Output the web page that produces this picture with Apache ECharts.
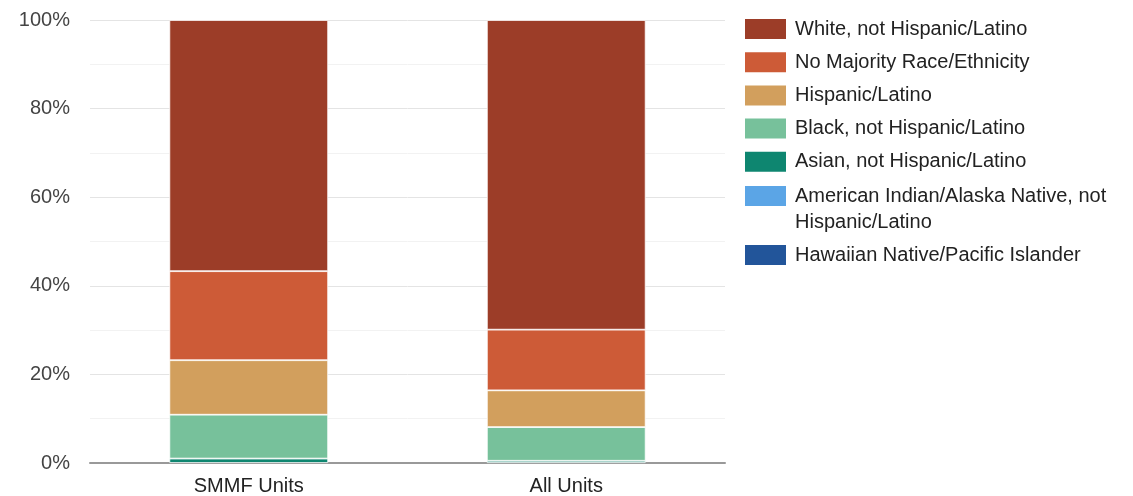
<!DOCTYPE html>
<html>
<head>
<meta charset="utf-8">
<script src="https://cdn.jsdelivr.net/npm/echarts@6/dist/echarts.min.js"></script>
<style>html,body{margin:0;padding:0;background:#fff}#c{width:1133px;height:496px}</style>
</head>
<body>
<div id="c"></div>
<script>
const categories = ['SMMF Units', 'All Units'];
const seriesNames = [
  'Hawaiian Native/Pacific Islander',
  'American Indian/Alaska Native, not Hispanic/Latino',
  'Asian, not Hispanic/Latino',
  'Black, not Hispanic/Latino',
  'Hispanic/Latino',
  'No Majority Race/Ethnicity',
  'White, not Hispanic/Latino'
];
const hawaiian = [0, 0];
const amIndian = [0, 0];
const asian = [1.0, 0.5];
const black = [9.9, 7.6];
const hispanic = [12.3, 8.3];
const noMajority = [20.1, 13.7];
const white = [56.7, 69.9];
const colors = ['#22559a', '#5ba5e6', '#0e8670', '#77c19b', '#d29f5d', '#cd5b37', '#9c3d28'];
const yTicks = [0, 20, 40, 60, 80, 100];

const values = [hawaiian, amIndian, asian, black, hispanic, noMajority, white];
const FONT = 'Liberation Sans, Arial, sans-serif';

const legendBase = {
  orient: 'vertical',
  left: 745,
  padding: 0,
  itemWidth: 41,
  itemHeight: 20,
  itemGap: 7.2,
  icon: 'rect',
  itemStyle: { borderWidth: 0 },
  textStyle: { fontFamily: FONT, fontSize: 20, color: '#222', lineHeight: 26, padding: [0, 0, 0, 4] }
};
const rev = seriesNames.slice().reverse();

const chart = echarts.init(document.getElementById('c'));
chart.setOption({
  animation: false,
  color: colors,
  grid: { left: 90, right: 408, top: 20, bottom: 32, containLabel: false },
  legend: [
    Object.assign({}, legendBase, { top: 16, data: rev.slice(0, 5) }),
    Object.assign({}, legendBase, {
      top: 157,
      data: [rev[5]],
      formatter: function () { return '\nAmerican Indian/Alaska Native, not\nHispanic/Latino'; }
    }),
    Object.assign({}, legendBase, { top: 242, data: [rev[6]] })
  ],
  xAxis: {
    type: 'category',
    data: categories,
    axisTick: { show: false },
    axisLine: { show: true, lineStyle: { color: '#999', width: 2 } },
    axisLabel: { fontFamily: FONT, fontSize: 20, color: '#222', margin: 13 }
  },
  yAxis: {
    type: 'value',
    min: yTicks[0],
    max: yTicks[yTicks.length - 1],
    interval: 20,
    axisLine: { show: false },
    axisTick: { show: false },
    axisLabel: { fontFamily: FONT, fontSize: 20, color: '#444', margin: 20, formatter: '{value}%' },
    splitLine: { lineStyle: { color: '#e4e4e4', width: 1 } },
    minorTick: { show: false, splitNumber: 2 },
    minorSplitLine: { show: true, lineStyle: { color: '#f2f2f2', width: 1 } }
  },
  series: seriesNames.map(function (n, i) {
    return {
      name: n,
      type: 'bar',
      stack: 'total',
      barWidth: '50%',
      data: values[i],
      itemStyle: { color: colors[i], borderColor: '#ffffff', borderWidth: i < 2 ? 0 : 0.8 }
    };
  })
});
</script>
</body>
</html>
